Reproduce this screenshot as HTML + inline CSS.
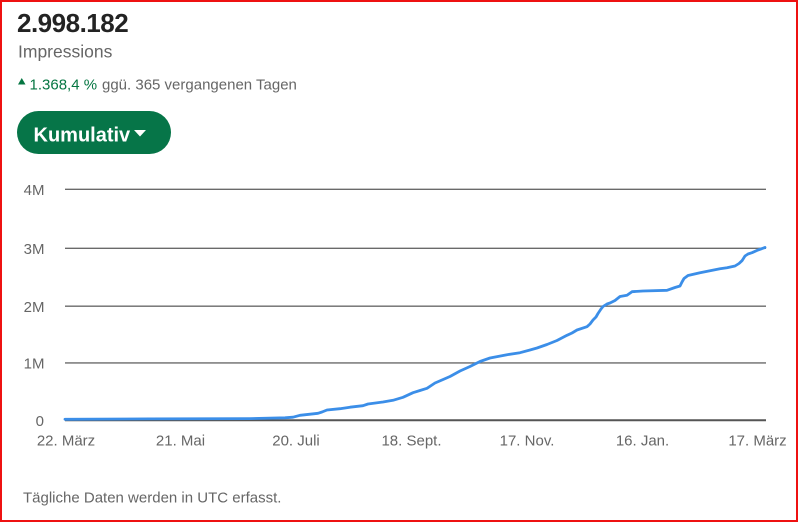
<!DOCTYPE html>
<html>
<head>
<meta charset="utf-8">
<style>
  html,body{margin:0;padding:0;background:#fff;}
  body{width:798px;height:522px;overflow:hidden;}
  svg{display:block;}
  text{font-family:"Liberation Sans", Arial, sans-serif;}
</style>
</head>
<body>
<svg width="798" height="522" viewBox="0 0 798 522" xmlns="http://www.w3.org/2000/svg">
  <rect x="0" y="0" width="798" height="522" fill="#fff"/>
  <!-- red frame -->
  <rect x="1" y="1" width="796" height="520" fill="none" stroke="#ee1111" stroke-width="2"/>

  <!-- header -->
  <text x="17" y="32" font-size="26" font-weight="bold" fill="#232323" letter-spacing="-0.5">2.998.182</text>
  <text x="18" y="57.5" font-size="17.5" fill="#666">Impressions</text>
  <polygon points="18,84.5 25.5,84.5 21.75,78" fill="#057642"/>
  <text x="29.5" y="89.5" font-size="15" fill="#057642">1.368,4 %</text>
  <text x="102" y="89.5" font-size="15" fill="#666">ggü. 365 vergangenen Tagen</text>

  <!-- button -->
  <rect x="17" y="111" width="154" height="43" rx="21.5" ry="21.5" fill="#067548"/>
  <text x="33.5" y="141.5" font-size="20" font-weight="bold" fill="#fff">Kumulativ</text>
  <polygon points="134,130 146,130 140,136.5" fill="#fff"/>

  <!-- gridlines -->
  <g stroke="#6a6a6a" stroke-width="1.4">
    <line x1="65" y1="189.3" x2="766" y2="189.3"/>
    <line x1="65" y1="248.3" x2="766" y2="248.3"/>
    <line x1="65" y1="306.2" x2="766" y2="306.2"/>
    <line x1="65" y1="362.9" x2="766" y2="362.9"/>
  </g>
  <line x1="65" y1="420.3" x2="766" y2="420.3" stroke="#555" stroke-width="2"/>

  <!-- y labels -->
  <g font-size="15" fill="#666" text-anchor="end">
    <text x="44.5" y="195">4M</text>
    <text x="44.5" y="254">3M</text>
    <text x="44.5" y="312">2M</text>
    <text x="44.5" y="368.5">1M</text>
    <text x="44" y="426">0</text>
  </g>

  <!-- x labels -->
  <g font-size="15" fill="#666" text-anchor="middle">
    <text x="66" y="445.5">22. März</text>
    <text x="180.5" y="445.5">21. Mai</text>
    <text x="296" y="445.5">20. Juli</text>
    <text x="411.5" y="445.5">18. Sept.</text>
    <text x="527" y="445.5">17. Nov.</text>
    <text x="642.5" y="445.5">16. Jan.</text>
    <text x="757.5" y="445.5">17. März</text>
  </g>

  <!-- series -->
  <polyline fill="none" stroke="#3b8ee8" stroke-width="2.8" stroke-linejoin="round" stroke-linecap="round"
    points="65,419.3 150,418.9 250,418.6 285,417.8 293,417.2 300,415.3 318,413.3 322,412 327,410 340,408.7 350,407.2 363,405.7 368,404 383,402 393,400.3 403,397.3 413,392.7 420,390.5 427,388.3 435,383 450,376.5 460,371 470,366.5 480,361.5 490,358 507,354.7 520,352.7 530,350 537,348 547,344.5 557,340.5 567,335.3 572,333 577,330 587,326.7 590,324 593,320 596,317 598,313.5 601,309 603,306.5 607,304 610,303 615,300.5 620,296.5 627,295.3 632,291.7 643,291 667,290.3 675,287.5 680,286 682,282 684,278.5 688,275.5 700,272.7 710,270.7 720,268.8 727,267.7 735,266 739,263.5 742,260.7 745,256 748,254 752,252.7 758,250 765,247.5"/>

  <!-- footer -->
  <text x="23" y="502.5" font-size="15" fill="#666">Tägliche Daten werden in UTC erfasst.</text>
</svg>
</body>
</html>
